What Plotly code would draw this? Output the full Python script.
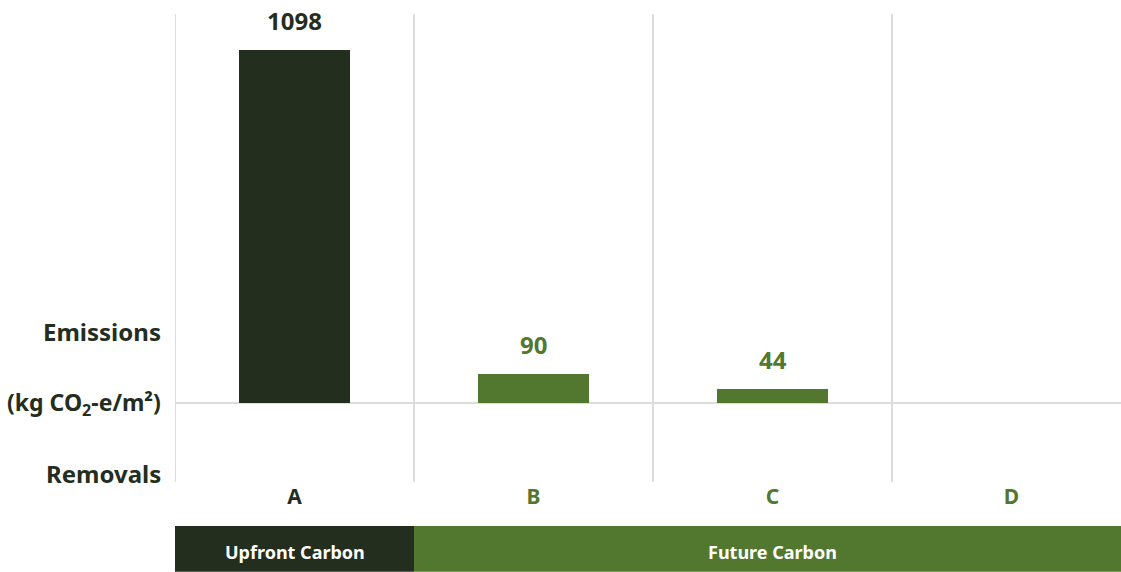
import plotly.graph_objects as go

categories = ["A", "B", "C", "D"]
values = [1098, 90, 44, 0]
value_labels = ["1098", "90", "44", ""]
groups = ["Upfront Carbon", "Future Carbon"]
group_spans = [(0, 0), (1, 3)]

DARK = "#232e1e"
GREEN = "#52772e"
GRID = "#dcdcdc"
FONT = "Noto Sans"

colors = [DARK, GREEN, GREEN, GREEN]

fig = go.Figure()
fig.add_trace(go.Bar(
    x=categories, y=values, marker_color=colors, width=0.464,
    marker_line_width=0, hoverinfo="skip", showlegend=False,
))

ann = []
for c, v, t, col in zip(categories, values, value_labels, colors):
    if t:
        ann.append(dict(x=c, y=v, xref="x", yref="y", text=f"<b>{t}</b>", showarrow=False,
                        yanchor="bottom", yshift=11, font=dict(family=FONT, size=24, color=col)))

# left side labels
for txt, yv, fs in [("Emissions", 221, 24), ("(kg CO<sub>2</sub>-e/m²)", 0, 23), ("Removals", -218, 24)]:
    ann.append(dict(x=0, y=yv, xref="paper", yref="y", text=f"<b>{txt}</b>", showarrow=False,
                    xanchor="right", yanchor="middle", xshift=-12,
                    font=dict(family=FONT, size=fs, color=DARK)))

shapes = []
# vertical separators
for xb in [-0.5, 0.5, 1.5, 2.5]:
    shapes.append(dict(type="line", xref="x", yref="paper", x0=xb, x1=xb, y0=0, y1=1,
                       line=dict(color=GRID, width=2), layer="below"))
# zero line
shapes.append(dict(type="line", xref="paper", yref="y", x0=0, x1=1, y0=0, y1=0,
                   line=dict(color=GRID, width=2), layer="below"))

# group bands
band_y0, band_y1 = -0.192, -0.094
band_colors = [DARK, GREEN]
for g, (i0, i1), bc in zip(groups, group_spans, band_colors):
    shapes.append(dict(type="rect", xref="x", yref="paper", x0=i0 - 0.5, x1=i1 + 0.5,
                       y0=band_y0, y1=band_y1, fillcolor=bc, line=dict(width=0)))
ann.append(dict(x=0, y=(band_y0 + band_y1) / 2, xref="x", yref="paper", text="<b>Upfront Carbon</b>",
                showarrow=False, yanchor="middle", yshift=-3,
                font=dict(family=FONT, size=18, color="white")))
ann.append(dict(x=2, y=(band_y0 + band_y1) / 2, xref="x", yref="paper", text="<b>Future Carbon</b>",
                showarrow=False, yanchor="middle", yshift=-3,
                font=dict(family=FONT, size=18, color="white")))

ticktext = [f"<b><span style='color:{col}'>{c}</span></b>" for c, col in zip(categories, colors)]

fig.update_layout(
    width=1121, height=572,
    margin=dict(l=175, r=0, t=14, b=90),
    plot_bgcolor="white", paper_bgcolor="white",
    bargap=0,
    xaxis=dict(range=[-0.5, 3.458], showgrid=False, zeroline=False, showline=False,
               tickmode="array", tickvals=categories, ticktext=ticktext, ticks="",
               tickfont=dict(family=FONT, size=21, color=DARK), fixedrange=True),
    yaxis=dict(range=[-245.7, 1210], showgrid=False, zeroline=False, showline=False,
               showticklabels=False, ticks="", fixedrange=True),
    annotations=ann, shapes=shapes,
)

fig.write_html("out.html")
